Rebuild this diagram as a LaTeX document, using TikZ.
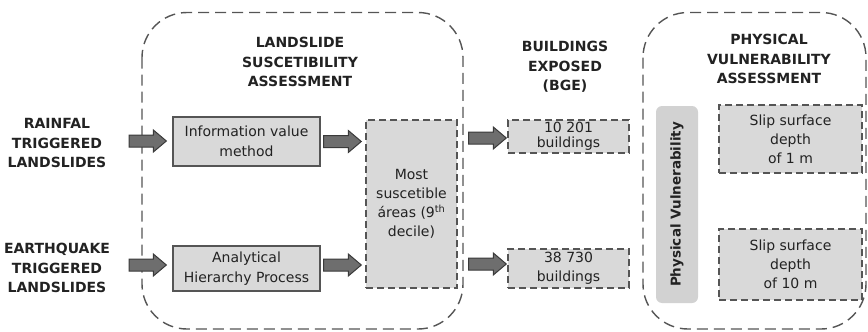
\documentclass[tikz,border=0pt]{standalone}
\usepackage{fontspec}
\setmainfont{DejaVu Sans}
\usetikzlibrary{calc}
\definecolor{boxfill}{HTML}{D9D9D9}
\definecolor{barfill}{HTML}{D2D2D2}
\definecolor{linegray}{HTML}{555555}
\definecolor{arrfill}{HTML}{6E6E6E}
\definecolor{arrdraw}{HTML}{3A3A3A}
\definecolor{txt}{HTML}{222222}
\newcommand\blockarr[2]{%
  \path[barrow] let \p1=(#1), \p2=(#2) in
  (\x1,\y1+6pt) -- (\x2-13pt,\y1+6pt) -- (\x2-13pt,\y1+11pt) -- (\x2,\y1)
  -- (\x2-13pt,\y1-11pt) -- (\x2-13pt,\y1-6pt) -- (\x1,\y1-6pt) -- cycle;}
\tikzset{
  container/.style={draw=linegray, line width=1.4pt, dash pattern=on 11pt off 6pt, rounded corners=45pt},
  titletext/.style={font=\bfseries\fontsize{14}{19.5}\selectfont, align=center, text=txt, inner sep=0pt},
  solidbox/.style={draw=linegray, line width=1.3pt, fill=boxfill, align=center, text=txt, inner sep=0pt, font=\fontsize{14}{19.5}\selectfont},
  dashbox/.style={draw=linegray, line width=1.4pt, dash pattern=on 7pt off 4pt, fill=boxfill, align=center, text=txt, inner sep=0pt, font=\fontsize{14}{19}\selectfont},
  barrow/.style={fill=arrfill, draw=arrdraw, line width=1pt, line join=miter},
  pvbar/.style={fill=barfill, rounded corners=6pt, text=txt, inner sep=0pt, font=\bfseries\fontsize{13.5}{16}\selectfont}
}
\begin{document}
\begin{tikzpicture}[x=1pt,y=-1pt]
\useasboundingbox (0,0) rectangle (868,332);
% containers
\draw[container] (142,12.5) rectangle (463,329);
\draw[container] (643,12.5) rectangle (866,329);
% left labels
\node[titletext] (rain) at (57,143) {RAINFAL\\TRIGGERED\\LANDSLIDES};
\node[titletext] (quake) at (57,268) {EARTHQUAKE\\TRIGGERED\\LANDSLIDES};
% titles
\node[titletext] (t1) at (300,62) {LANDSLIDE\\SUSCETIBILITY\\ASSESSMENT};
\node[titletext] (t2) at (565,67) {BUILDINGS\\EXPOSED\\(BGE)};
\node[titletext] (t3) at (769,59) {PHYSICAL\\VULNERABILITY\\ASSESSMENT};
% boxes
\node[solidbox, minimum width=147pt, minimum height=49pt] (info) at (246.5,141.5) {Information value\\method};
\node[solidbox, minimum width=147pt, minimum height=45pt] (ahp) at (246.5,268.5) {Analytical\\Hierarchy Process};
\node[dashbox, minimum width=91pt, minimum height=168pt] (most) at (411.5,204) {Most\\suscetible\\áreas (9\textsuperscript{th}\\decile)};
\node[dashbox, minimum width=121pt, minimum height=33pt, font=\fontsize{14}{15}\selectfont] (bge1) at (568.5,136.5) {10 201\\buildings};
\node[dashbox, minimum width=121pt, minimum height=39pt] (bge2) at (568.5,268.5) {38 730\\buildings};
\node[pvbar, minimum width=197pt, minimum height=42pt, rotate=90] (pv) at (677,204.5) {Physical Vulnerability};
\node[dashbox, minimum width=143pt, minimum height=68pt] (slip1) at (790.5,139) {Slip surface\\depth\\of 1 m};
\node[dashbox, minimum width=143pt, minimum height=71pt] (slip2) at (790.5,264.5) {Slip surface\\depth\\of 10 m};
% arrow end points
\coordinate (a1s) at (129,141);
\coordinate (a3s) at (129,265);
\coordinate (a1e) at ($(info.west)+(-6,0)$);
\coordinate (a3e) at ($(ahp.west |- a3s)+(-6,0)$);
\coordinate (a2s) at ($(info.east)+(3,0)$);
\coordinate (a2e) at ($(most.west |- info.east)+(-4,0)$);
\coordinate (a4s) at ($(ahp.east |- a3s)+(3,0)$);
\coordinate (a4e) at ($(most.west |- a3s)+(-4,0)$);
\coordinate (a5s) at ($(most.east |- bge1.west)+(11,1.5)$);
\coordinate (a5e) at ($(bge1.west)+(-1,1.5)$);
\coordinate (a6s) at ($(most.east |- 0,264)+(11,0)$);
\coordinate (a6e) at ($(bge2.west |- 0,264)+(-1,0)$);
\blockarr{a1s}{a1e}
\blockarr{a2s}{a2e}
\blockarr{a3s}{a3e}
\blockarr{a4s}{a4e}
\blockarr{a5s}{a5e}
\blockarr{a6s}{a6e}
\end{tikzpicture}
\end{document}
